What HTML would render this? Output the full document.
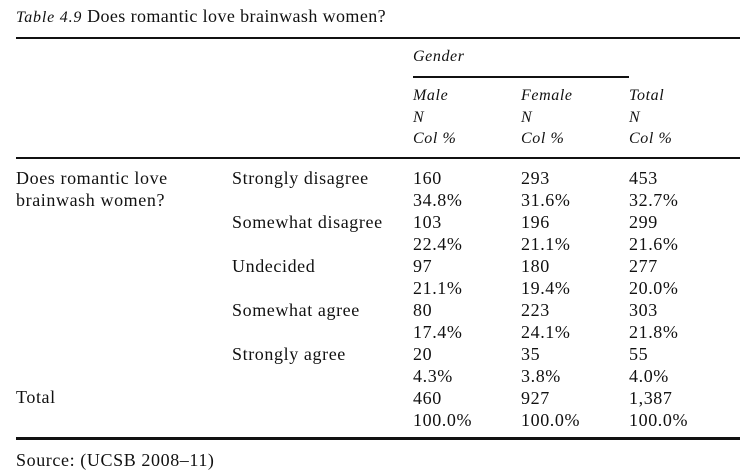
<!DOCTYPE html>
<html><head><meta charset="utf-8"><style>
body{margin:0;background:#fff;width:752px;height:474px;position:relative;overflow:hidden;font-family:"Liberation Serif",serif;font-size:18px;letter-spacing:0.6px;color:#111}
.t{position:absolute;white-space:nowrap;line-height:20px}
.i{font-style:italic}
.r{position:absolute;background:#111}
</style></head><body>
<div class="t" style="left:16px;top:6px;letter-spacing:0.4px"><span class="i" style="font-size:16px;letter-spacing:0.8px">Table 4.9</span> Does romantic love brainwash women?</div>
<div class="r" style="left:16px;top:37px;width:724px;height:2px"></div>
<div class="t i" style="left:413px;top:47px;font-size:16px">Gender</div>
<div class="r" style="left:413px;top:76px;width:216px;height:2px"></div>
<div class="t i" style="left:413px;top:85px;font-size:16px;line-height:21.5px">Male<br>N<br>Col %</div>
<div class="t i" style="left:521px;top:85px;font-size:16px;line-height:21.5px">Female<br>N<br>Col %</div>
<div class="t i" style="left:629px;top:85px;font-size:16px;line-height:21.5px">Total<br>N<br>Col %</div>
<div class="r" style="left:16px;top:157px;width:724px;height:2px"></div>
<div class="t" style="left:16px;top:167px;line-height:22px">Does romantic love<br>brainwash women?</div>
<div class="t" style="left:232px;top:167px;line-height:22px">Strongly disagree<br><br>Somewhat disagree<br><br>Undecided<br><br>Somewhat agree<br><br>Strongly agree</div>
<div class="t" style="left:16px;top:387px">Total</div>
<div class="t" style="left:413px;top:167px;line-height:22px">160<br>34.8%<br>103<br>22.4%<br>97<br>21.1%<br>80<br>17.4%<br>20<br>4.3%<br>460<br>100.0%</div>
<div class="t" style="left:521px;top:167px;line-height:22px">293<br>31.6%<br>196<br>21.1%<br>180<br>19.4%<br>223<br>24.1%<br>35<br>3.8%<br>927<br>100.0%</div>
<div class="t" style="left:629px;top:167px;line-height:22px">453<br>32.7%<br>299<br>21.6%<br>277<br>20.0%<br>303<br>21.8%<br>55<br>4.0%<br>1,387<br>100.0%</div>
<div class="r" style="left:16px;top:437px;width:724px;height:3px"></div>
<div class="t" style="left:16px;top:450px">Source: (UCSB 2008–11)</div>
</body></html>
